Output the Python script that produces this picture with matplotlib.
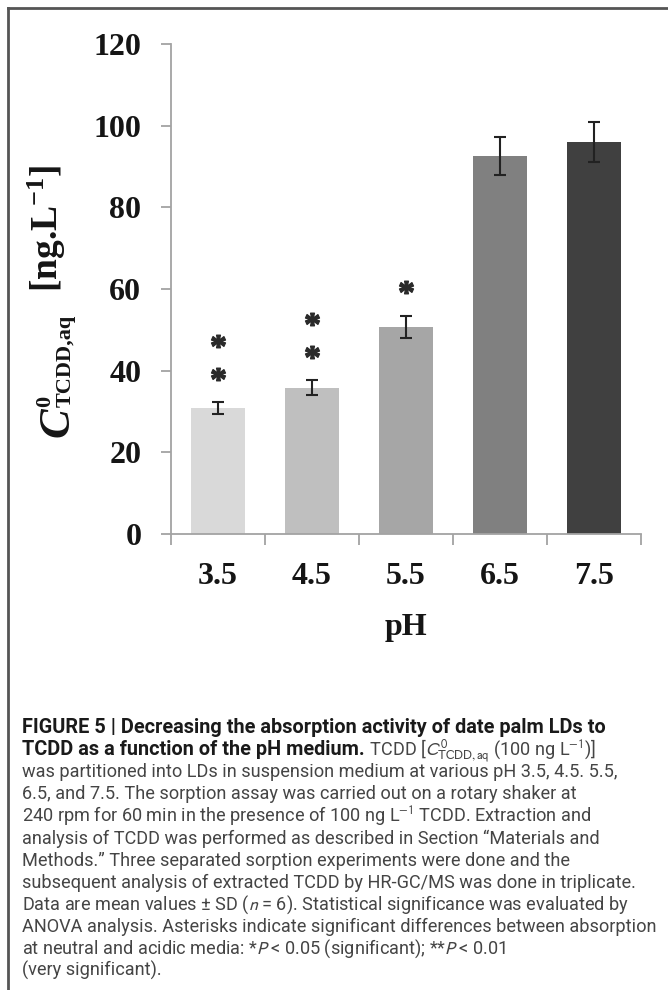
import matplotlib
matplotlib.use('Agg')
import matplotlib.pyplot as plt
import numpy as np
from matplotlib.lines import Line2D
from matplotlib import font_manager

# pH of the medium and aqueous TCDD concentration (mean, SD)
ph_labels = ['3.5', '4.5', '5.5', '6.5', '7.5']
conc_mean = [30.8, 35.8, 50.7, 92.6, 96.0]
conc_sd = [1.5, 1.8, 2.7, 4.7, 4.8]
n_stars = [2, 2, 1, 0, 0]
bar_colors = ['#d9d9d9', '#bfbfbf', '#a6a6a6', '#808080', '#404040']

W, H = 668, 990


def px(x):
    return x / W


def py(y):
    return 1 - y / H


plt.rcParams['mathtext.fontset'] = 'custom'
plt.rcParams['mathtext.rm'] = 'Liberation Serif:bold'
plt.rcParams['mathtext.it'] = 'Liberation Serif:italic:bold'
plt.rcParams['mathtext.bf'] = 'Liberation Serif:bold'

available = {f.name for f in font_manager.fontManager.ttflist}
if 'Liberation Sans Narrow' in available:
    CAP_FAMILY, CAP_SIZE, CAP_BOLD_SIZE = 'Liberation Sans Narrow', 14.5, 15.5
else:
    CAP_FAMILY, CAP_SIZE, CAP_BOLD_SIZE = 'Roboto', 13.1, 14.3

SERIF = 'Liberation Serif'
GRAY = '#a3a3a3'
INK = '#151515'

fig = plt.figure(figsize=(W / 100, H / 100), dpi=100)
ax = fig.add_axes([px(170.7), py(534), px(640.7) - px(170.7), py(44) - py(534)])

x = np.arange(len(ph_labels))
ax.bar(x, conc_mean, width=0.575, color=bar_colors, zorder=2)
ax.errorbar(x, conc_mean, yerr=conc_sd, fmt='none', ecolor='#222222',
            elinewidth=1.5, capsize=4.6, capthick=1.5, zorder=3)

# significance asterisks stacked above the error bars
for i, n in enumerate(n_stars):
    top = conc_mean[i] + conc_sd[i]
    for k in range(n):
        ax.plot(i, top + 7 + 8 * k, marker='$*$', ms=10, color='#2a2a2a',
                ls='none', zorder=4)

ax.set_xlim(-0.5, len(ph_labels) - 0.5)
ax.set_ylim(0, 120)
ax.set_yticks(range(0, 121, 20))
ax.set_xticks(np.arange(-0.5, len(ph_labels), 1))
ax.set_xticklabels([])
ax.set_xticks(x, minor=True)
ax.set_xticklabels(ph_labels, minor=True)

ax.tick_params(axis='x', which='minor', length=0, pad=20)
ax.tick_params(axis='x', which='major', length=8, width=1.3, color=GRAY)
ax.tick_params(axis='y', length=7.2, width=1.3, color=GRAY, pad=14)
for lab in ax.get_xticklabels(minor=True) + ax.get_yticklabels():
    lab.set_fontfamily(SERIF)
    lab.set_fontweight('bold')
    lab.set_fontsize(23)
    lab.set_color(INK)

for side in ['top', 'right']:
    ax.spines[side].set_visible(False)
for side in ['left', 'bottom']:
    ax.spines[side].set_color(GRAY)
    ax.spines[side].set_linewidth(1.3)

fig.text(px(405.7), py(628), 'pH', ha='center', va='center',
         family=SERIF, fontweight='bold', fontsize=23, color=INK)

# y label, written bottom-to-top: C, its super/subscript, then the unit
rot = dict(rotation=90, rotation_mode='anchor', ha='left', va='baseline',
           family=SERIF, fontweight='bold', color=INK)
c_txt = fig.text(px(68), py(437), 'C', fontsize=32, style='italic', **rot)
ax.annotate('0', xy=(px(50), 1), xycoords=('figure fraction', c_txt),
            fontsize=16, annotation_clip=False, **rot)
ax.annotate('TCDD,aq', xy=(px(71), 1), xycoords=('figure fraction', c_txt),
            fontsize=16, annotation_clip=False, **rot)
fig.text(px(58), py(292), r'[ng.L$^{-1}$]', fontsize=27,
         math_fontfamily='custom', **rot)

# frame around the figure panel
fig.add_artist(Line2D([px(8), 1], [py(8), py(8)], color='#555555', lw=2))
fig.add_artist(Line2D([px(8), px(8)], [py(8), 0], color='#555555', lw=2))

# caption
REG = '#454545'
BOLD = '#1a1a1a'
y0, step = 733, 22.1
caption = [
    "was partitioned into LDs in suspension medium at various pH 3.5, 4.5. 5.5,",
    "6.5, and 7.5. The sorption assay was carried out on a rotary shaker at",
    "240 rpm for 60 min in the presence of 100 ng L$^{-1}$ TCDD. Extraction and",
    "analysis of TCDD was performed as described in Section \u201cMaterials and",
    "Methods.\u201d Three separated sorption experiments were done and the",
    "subsequent analysis of extracted TCDD by HR-GC/MS was done in triplicate.",
    "Data are mean values \u00b1 SD ($n$ = 6). Statistical significance was evaluated by",
    "ANOVA analysis. Asterisks indicate significant differences between absorption",
    "at neutral and acidic media: *$P$ < 0.05 (significant); **$P$ < 0.01",
    "(very significant).",
]

fig.text(px(22), py(y0), 'FIGURE 5 | Decreasing the absorption activity of date palm LDs to',
         va='baseline', family=CAP_FAMILY, fontweight='bold',
         fontsize=CAP_BOLD_SIZE, color=BOLD)
t1 = fig.text(px(22), py(y0 + step), 'TCDD as a function of the pH medium.',
              va='baseline', family=CAP_FAMILY, fontweight='bold',
              fontsize=CAP_BOLD_SIZE, color=BOLD)
ax.annotate(r' TCDD [$C^{0}_{\mathrm{TCDD,aq}}$ (100 ng L$^{-1}$)]',
            xy=(1, py(y0 + step)), xycoords=(t1, 'figure fraction'),
            va='baseline', ha='left', family=CAP_FAMILY, fontsize=CAP_SIZE,
            color=REG, math_fontfamily='stixsans', annotation_clip=False)
for i, line in enumerate(caption):
    fig.text(px(22), py(y0 + step * (i + 2)), line, va='baseline',
             family=CAP_FAMILY, fontsize=CAP_SIZE, color=REG,
             math_fontfamily='stixsans')

fig.savefig('out.png', dpi=100)
